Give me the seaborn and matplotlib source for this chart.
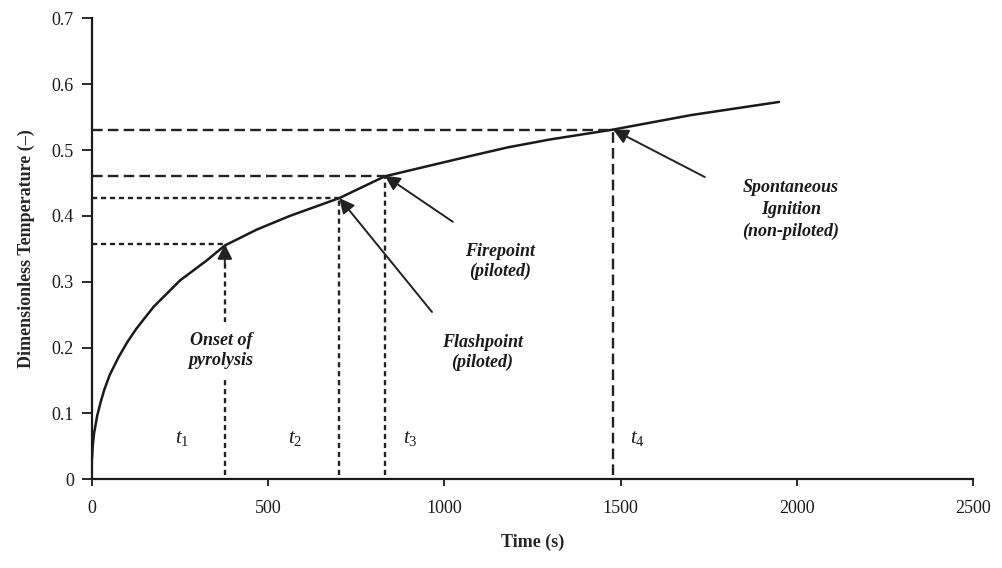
import matplotlib
matplotlib.use("Agg")
import matplotlib.pyplot as plt
import seaborn as sns
import pandas as pd

# Surface temperature history (dimensionless) under constant heating
time_s = [0, 2, 6, 15, 25, 35, 50, 75, 100, 125, 175, 250, 325, 377, 467,
          562, 702, 831, 988, 1075, 1180, 1300, 1479, 1700, 1950]
temp = [0.03, 0.05, 0.07, 0.097, 0.118, 0.136, 0.158, 0.185, 0.208, 0.228,
        0.262, 0.302, 0.332, 0.355, 0.379, 0.400, 0.427, 0.460, 0.480, 0.491,
        0.504, 0.516, 0.531, 0.553, 0.573]

# Critical events: time and temperature at which each is reached
event_times = [377, 702, 831, 1479]
event_temps = [0.357, 0.427, 0.461, 0.531]
event_names = ["Onset of\npyrolysis", "Flashpoint\n(piloted)",
               "Firepoint\n(piloted)", "Spontaneous\nIgnition\n(non-piloted)"]
time_labels = [r"$t_{\mathit{1}}$", r"$t_{\mathit{2}}$",
               r"$t_{\mathit{3}}$", r"$t_{\mathit{4}}$"]

x_ticks = [0, 500, 1000, 1500, 2000, 2500]
y_ticks = [0, 0.1, 0.2, 0.3, 0.4, 0.5, 0.6, 0.7]

sns.set_style("ticks")
plt.rcParams["font.family"] = ["Liberation Serif", "DejaVu Serif"]
plt.rcParams["mathtext.fontset"] = "custom"
plt.rcParams["mathtext.it"] = "Liberation Serif:italic"
plt.rcParams["mathtext.rm"] = "Liberation Serif"

fig = plt.figure(figsize=(10.03, 5.68), dpi=100)
ax = fig.add_axes([0.0917, 0.1562, 0.8783, 0.8116])

df = pd.DataFrame({"Time (s)": time_s, "Temperature": temp})
sns.lineplot(data=df, x="Time (s)", y="Temperature", ax=ax, color="#1a1a1a",
             linewidth=1.8, sort=False)

long_dash = (0, (4.5, 2.2))
short_dash = (0, (2.2, 1.6))
h_styles = [short_dash, short_dash, long_dash, long_dash]
v_styles = [short_dash, short_dash, short_dash, long_dash]

for tx, ty, hs, vs in zip(event_times, event_temps, h_styles, v_styles):
    ax.hlines(ty, 0, tx, colors="#222222", linewidth=1.7, linestyles=[hs])
    ax.vlines(tx, 0.006, ty, colors="#222222", linewidth=1.7, linestyles=[vs])

text_kw = dict(fontsize=13, fontweight="bold", fontstyle="italic",
               ha="center", va="center", color="#1a1a1a")
arrow_kw = dict(arrowstyle="-|>,head_length=0.5,head_width=0.25",
                color="#222222", lw=1.4, mutation_scale=18,
                shrinkA=0, shrinkB=0)

# Onset of pyrolysis: arrow straight up the t1 line, label breaks the line
ax.annotate("", xy=(event_times[0], event_temps[0]),
            xytext=(event_times[0], event_temps[0] - 0.03),
            arrowprops=arrow_kw)
ax.text(366, 0.196, event_names[0],
        bbox=dict(facecolor="white", edgecolor="none", pad=7), **text_kw)

# Flashpoint, firepoint and spontaneous ignition with leader arrows
ax.annotate("", xy=(event_times[1], event_temps[1]), xytext=(965, 0.254),
            arrowprops=arrow_kw)
ax.text(1107, 0.193, event_names[1], **text_kw)

ax.annotate("", xy=(event_times[2], event_temps[2]), xytext=(1024, 0.391),
            arrowprops=arrow_kw)
ax.text(1158, 0.331, event_names[2], **text_kw)

ax.annotate("", xy=(event_times[3], event_temps[3]), xytext=(1739, 0.459),
            arrowprops=arrow_kw)
ax.text(1983, 0.41, event_names[3], linespacing=1.35, **text_kw)

for lx, lab in zip([255, 576, 902, 1547], time_labels):
    ax.text(lx, 0.062, lab, fontsize=15, ha="center", va="center",
            color="#1a1a1a")

ax.set_xlim(0, 2500)
ax.set_ylim(0, 0.7)
ax.set_xticks(x_ticks)
ax.set_yticks(y_ticks)
ax.set_xticklabels([str(v) for v in x_ticks])
ax.set_yticklabels(["0" if v == 0 else f"{v:.1f}" for v in y_ticks])
ax.tick_params(axis="both", labelsize=13, direction="out", width=1.3,
               colors="#1a1a1a")
ax.tick_params(axis="y", length=7, pad=6)
ax.tick_params(axis="x", length=5, pad=10)

ax.set_xlabel("Time (s)", fontsize=13, fontweight="bold", labelpad=12)
ax.set_ylabel("Dimensionless Temperature (–)", fontsize=13,
              fontweight="bold", labelpad=12)

sns.despine(ax=ax)
for side in ["left", "bottom"]:
    ax.spines[side].set_linewidth(1.6)
    ax.spines[side].set_color("#1a1a1a")

fig.savefig("out.png", dpi=100)
